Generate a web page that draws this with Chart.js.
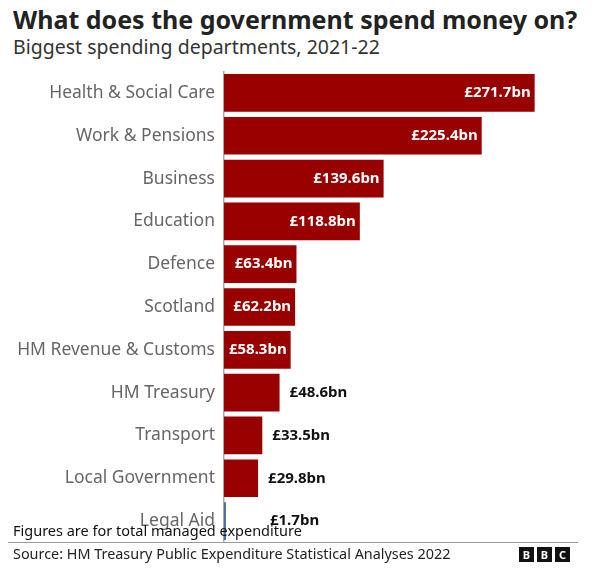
<!DOCTYPE html>
<html><head><meta charset="utf-8">
<script src="https://cdn.jsdelivr.net/npm/chart.js@4/dist/chart.umd.min.js"></script>
<style>
body{margin:0;width:594px;height:580px;background:#fff;font-family:"Noto Sans",sans-serif;position:relative;overflow:hidden}
#t{position:absolute;left:13px;top:2px;font-size:25px;font-weight:bold;color:#222;white-space:nowrap}
#s{position:absolute;left:13px;top:33px;font-size:19.5px;color:#333;white-space:nowrap}
#f{position:absolute;left:13px;top:520px;font-size:14.5px;color:#111}
#line{position:absolute;left:8px;right:16px;top:542px;border-top:1.5px solid #999}
#src{position:absolute;left:13px;top:544px;font-size:14.4px;color:#222}
#bbc{position:absolute;left:519px;top:547px;display:flex;gap:3px}
#bbc span{background:#111;color:#fff;font:bold 11px "Noto Sans";width:15px;height:15px;text-align:center;line-height:15px}
#c{position:absolute;left:0;top:60px}
</style></head><body>
<div id="t">What does the government spend money on?</div>
<div id="s">Biggest spending departments, 2021-22</div>
<div id="c"><canvas id="cv" width="594" height="494"></canvas></div>
<div id="f">Figures are for total managed expenditure</div>
<div id="line"></div>
<div id="src">Source: HM Treasury Public Expenditure Statistical Analyses 2022</div>
<div id="bbc"><span>B</span><span>B</span><span>C</span></div>
<script>
const categories=["Health & Social Care","Work & Pensions","Business","Education","Defence","Scotland","HM Revenue & Customs","HM Treasury","Transport","Local Government","Legal Aid"];
const values=[271.7,225.4,139.6,118.8,63.4,62.2,58.3,48.6,33.5,29.8,1.7];
const labels=["£271.7bn","£225.4bn","£139.6bn","£118.8bn","£63.4bn","£62.2bn","£58.3bn","£48.6bn","£33.5bn","£29.8bn","£1.7bn"];
const colors=values.map((v,i)=>i===10?'#4a6fa5':'#990000');
const lbl={id:'lbl',afterDatasetsDraw(ch){const c=ch.ctx;const m=ch.getDatasetMeta(0);c.save();c.font='bold 15px "Noto Sans"';c.textBaseline='middle';
m.data.forEach((b,i)=>{if(values[i]>50){c.fillStyle='#fff';c.textAlign='right';c.fillText(labels[i],b.x-4,b.y);}else{c.fillStyle='#111';c.textAlign='left';c.fillText(labels[i],i===10?b.x+44:b.x+10,b.y);}});c.restore();}};
new Chart(document.getElementById('cv'),{type:'bar',data:{labels:categories,datasets:[{data:values,backgroundColor:colors,categoryPercentage:1,barPercentage:0.88}]},
options:{indexAxis:'y',responsive:false,animation:false,layout:{padding:{left:0,right:27,top:0,bottom:0}},
plugins:{legend:{display:false},tooltip:{enabled:false}},
scales:{x:{min:0,max:300,display:false},y:{afterFit(s){s.width=224},grid:{display:false},border:{display:true,color:'#aaa',width:1.5},ticks:{color:'#666',font:{size:17.5,family:'"Noto Sans"'},padding:1}}}},plugins:[lbl]});
</script></body></html>
